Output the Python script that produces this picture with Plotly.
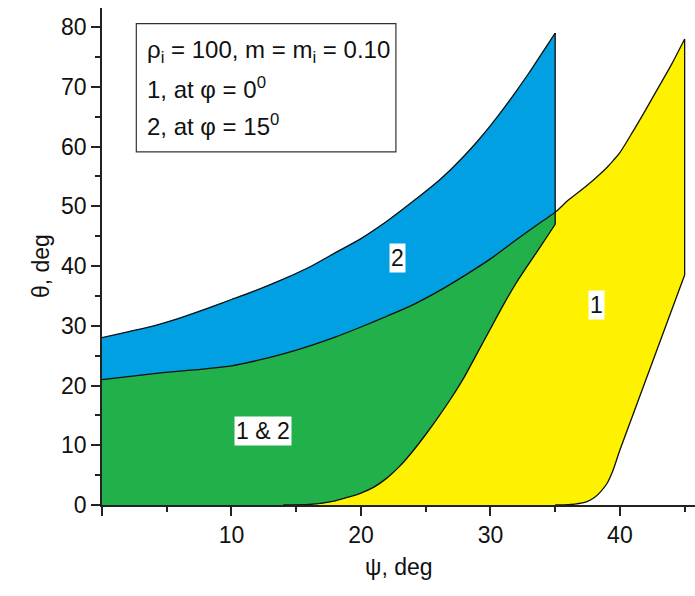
import plotly.graph_objects as go

# Upper boundary of region 1 (phi = 0 deg)
psi_u1 = [0, 2, 4, 6, 8, 10, 12, 14, 16, 18, 20, 22, 24, 26, 28, 30, 32, 34, 35,
          36, 37, 38, 39, 39.5, 40, 41, 42, 43, 44, 45]
theta_u1 = [21.0, 21.5, 22.0, 22.4, 22.8, 23.3, 24.2, 25.3, 26.6, 28.1, 29.8, 31.6,
            33.5, 35.8, 38.4, 41.2, 44.4, 47.5, 49.0,
            51.0, 52.7, 54.5, 56.5, 57.7, 59.0, 62.5, 66.2, 70.0, 73.8, 78.0]

# Lower boundary of region 1 (phi = 0 deg)
psi_l1 = [0, 35, 36, 36.5, 37, 37.5, 38, 38.5, 39, 39.5, 40, 45]
theta_l1 = [0, 0, 0.05, 0.15, 0.3, 0.6, 1.2, 2.2, 3.6, 6.0, 9.2, 38.5]

# Upper boundary of region 2 (phi = 15 deg)
psi_u2 = [0, 2, 4, 6, 8, 10, 12, 14, 16, 18, 20, 22, 24, 26, 27, 28, 29, 30, 31, 32,
          33, 34, 35]
theta_u2 = [28.0, 29.0, 30.0, 31.3, 32.8, 34.4, 36.0, 37.8, 39.8, 42.2, 44.6, 47.5,
            50.8, 54.3, 56.3, 58.5, 60.9, 63.5, 66.3, 69.3, 72.4, 75.7, 79.0]

# Lower boundary of region 2 (phi = 15 deg)
psi_l2 = [0, 14, 16, 17, 18, 19, 20, 21, 22, 23, 24, 25, 26, 27, 28, 29, 30, 31, 32,
          33, 34, 35]
theta_l2 = [0, 0, 0.1, 0.3, 0.7, 1.3, 2.0, 3.0, 4.5, 6.5, 9.0, 11.8, 14.8, 18.0, 21.5,
            25.5, 29.5, 33.5, 37.2, 40.5, 43.7, 47.0]

# Region labels
label_text = ["2", "1", "1 & 2"]
label_psi = [22.8, 38.2, 12.4]
label_theta = [41.4, 33.5, 12.4]

# Legend text
info_lines = ["\u03c1<sub>i</sub> = 100, m = m<sub>i</sub> = 0.10",
              "1, at \u03c6 = 0<sup>0</sup>",
              "2, at \u03c6 = 15<sup>0</sup>"]

BLUE = "#00A0E3"
GREEN = "#22B04B"
YELLOW = "#FFF200"
EDGE = "#111111"
FONT = "Arial, Liberation Sans, sans-serif"
FS = 23

# Region 1: along the upper curve, down the right edge, back along the lower curve
r1_x = psi_u1 + psi_l1[::-1]
r1_y = theta_u1 + theta_l1[::-1]

# Region 2: along the upper curve, down at psi = 35, back along the lower curve
r2_x = psi_u2 + psi_l2[::-1]
r2_y = theta_u2 + theta_l2[::-1]

# Overlap of both regions
n35 = psi_u1.index(35) + 1
both_x = psi_u1[:n35] + psi_l2[::-1]
both_y = theta_u1[:n35] + theta_l2[::-1]

fig = go.Figure()
for xs, ys, col in [(r1_x, r1_y, YELLOW), (r2_x, r2_y, BLUE), (both_x, both_y, GREEN)]:
    fig.add_trace(go.Scatter(x=xs, y=ys, mode="lines", fill="toself", fillcolor=col,
                             line=dict(color=col, width=0.5), hoverinfo="skip",
                             showlegend=False))

# Boundary curves drawn smoothly on top of the fills
k1 = psi_l1.index(35)
outlines = [
    (psi_u1, theta_u1, "spline"),
    (psi_l1[k1:], theta_l1[k1:], "spline"),
    ([45, 45], [theta_u1[-1], theta_l1[-1]], "linear"),
    (psi_u2, theta_u2, "spline"),
    (psi_l2[1:], theta_l2[1:], "spline"),
    ([35, 35], [theta_u2[-1], theta_l2[-1]], "linear"),
]
for xs, ys, shp in outlines:
    fig.add_trace(go.Scatter(x=xs, y=ys, mode="lines",
                             line=dict(color=EDGE, width=1.3, shape=shp, smoothing=0.8),
                             hoverinfo="skip", showlegend=False))

for t, px_, py_ in zip(label_text, label_psi, label_theta):
    fig.add_annotation(x=px_, y=py_, text=t, showarrow=False, bgcolor="white",
                       borderpad=1, font=dict(family=FONT, size=FS, color="#111"))

# Parameter box
fig.add_shape(type="rect", x0=2.65, x1=22.7, y0=59.1, y1=80.6,
              line=dict(color="#333", width=1.2), fillcolor="white")
for txt, yy in zip(info_lines, [75.9, 69.8, 63.6]):
    fig.add_annotation(x=3.3, y=yy, text=txt, showarrow=False, xanchor="left",
                       yanchor="middle", font=dict(family=FONT, size=FS + 1, color="#111"))

# Axis titles
fig.add_annotation(xref="paper", yref="paper", x=0.50, y=-0.155, text="\u03c8, deg",
                   showarrow=False, font=dict(family=FONT, size=FS, color="#111"))
fig.add_annotation(xref="paper", yref="paper", x=-0.128, y=0.481, text="\u03b8, deg",
                   textangle=-90, showarrow=False,
                   font=dict(family=FONT, size=FS, color="#111"))

axis_common = dict(showline=True, linecolor="#222", linewidth=1.5, ticks="outside",
                   ticklen=9, tickwidth=1.5, tickcolor="#222", showgrid=False,
                   zeroline=False, tickfont=dict(family=FONT, size=FS, color="#111"),
                   minor=dict(ticks="outside", ticklen=5, tickwidth=1.5,
                              tickcolor="#222", dtick=5, showgrid=False))

fig.update_xaxes(range=[0, 45.8], tickvals=[0, 10, 20, 30, 40],
                 ticktext=["", "10", "20", "30", "40"], **axis_common)
fig.update_yaxes(range=[0, 83.2], tickvals=[0, 10, 20, 30, 40, 50, 60, 70, 80],
                 **axis_common)

fig.update_layout(width=695, height=596, margin=dict(l=102, r=0, t=8, b=91),
                  plot_bgcolor="white", paper_bgcolor="white", showlegend=False)

fig.write_html("out.html")
